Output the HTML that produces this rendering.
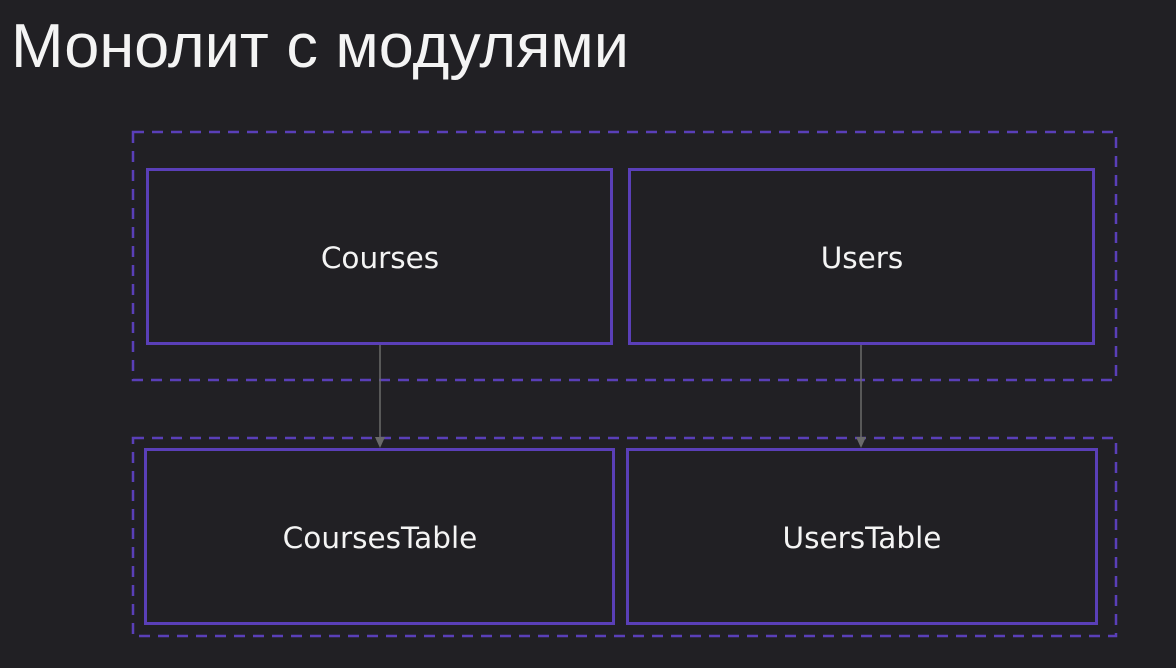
<html><body style="margin:0;background:#212024">
<svg width="1176" height="668" xmlns="http://www.w3.org/2000/svg">
<rect width="1176" height="668" fill="#212024"/>
<text x="11" y="67" font-family="Liberation Sans Narrow, Liberation Sans, DejaVu Sans, sans-serif" font-size="62" fill="#f4f4f4" textLength="618" lengthAdjust="spacingAndGlyphs" style="font-weight:300">Монолит с модулями</text>
<g fill="none" stroke="#5a3fb8" stroke-width="2.5" stroke-dasharray="11,8">
<rect x="133" y="132" width="983" height="248"/>
<rect x="133" y="438" width="983" height="198"/>
</g>
<g fill="none" stroke="#5a3fb8" stroke-width="3">
<rect x="147.5" y="169.5" width="464" height="174"/>
<rect x="629.5" y="169.5" width="464" height="174"/>
<rect x="145.5" y="449.5" width="468" height="174"/>
<rect x="627.5" y="449.5" width="469" height="174"/>
</g>
<g stroke="#6a6a6a" stroke-width="1.5">
<line x1="380" y1="345" x2="380" y2="440"/>
<line x1="861" y1="345" x2="861" y2="440"/>
</g>
<g fill="#6a6a6a">
<polygon points="375,437 385,437 380,448"/>
<polygon points="856,437 866,437 861,448"/>
</g>
<g font-family="DejaVu Sans, Liberation Sans, sans-serif" font-size="29.5" fill="#f4f4f4" text-anchor="middle">
<text x="380" y="268">Courses</text>
<text x="862" y="268">Users</text>
<text x="380" y="548">CoursesTable</text>
<text x="862" y="548">UsersTable</text>
</g>
</svg>
</body></html>
